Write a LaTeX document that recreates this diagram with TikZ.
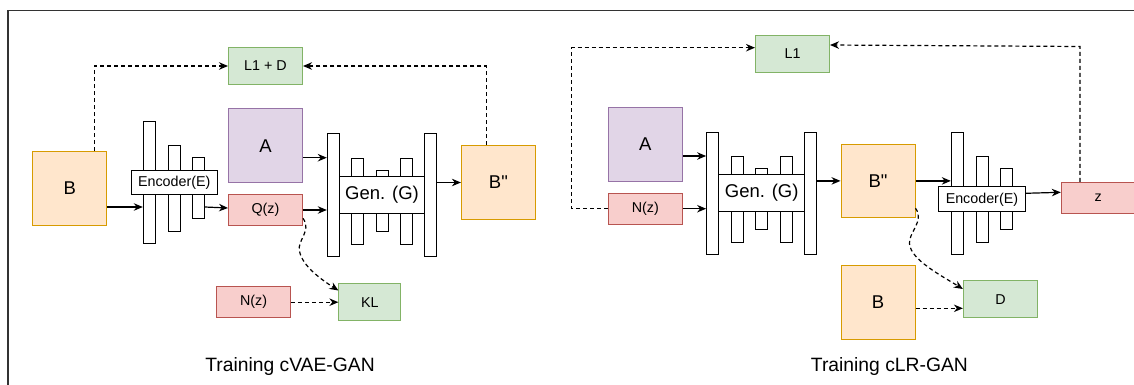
\documentclass[tikz,border=0pt]{standalone}
\usepackage{fontspec}
\setmainfont{Liberation Sans}[Ligatures=TeXOff]
\usetikzlibrary{arrows.meta}

\definecolor{orfill}{HTML}{FFE6CC}
\definecolor{ordraw}{HTML}{D79B00}
\definecolor{pufill}{HTML}{E1D5E7}
\definecolor{pudraw}{HTML}{9673A6}
\definecolor{refill}{HTML}{F8CECC}
\definecolor{redraw}{HTML}{B85450}
\definecolor{grfill}{HTML}{D5E8D4}
\definecolor{grdraw}{HTML}{82B366}

\newcommand{\boxtext}{\fontsize{14.3}{17}\selectfont}
\newcommand{\imgtext}{\fontsize{18.5}{22}\selectfont}
\newcommand{\titletext}{\fontsize{19.3}{23}\selectfont}

\begin{document}
\begin{tikzpicture}[
		x=1pt, y=-1pt,
		box/.style={draw, line width=1pt, inner sep=0pt, minimum width=74pt, font=\boxtext},
		imgbox/.style={box, minimum height=73.6pt, font=\imgtext},
		lossbox/.style={box, fill=grfill, draw=grdraw, minimum height=37pt},
		latbox/.style={box, fill=refill, draw=redraw, minimum height=31pt},
		bar/.style={draw, fill=white, line width=1pt, inner sep=0pt, minimum width=12pt},
		tallbar/.style={bar, minimum height=122.5pt},
		midbar/.style={bar, minimum height=86pt},
		lowbar/.style={bar, minimum height=61.3pt},
		netbox/.style={draw, fill=white, line width=1pt, inner sep=0pt},
		arr/.style={-{Stealth[length=9pt,width=7.5pt]}, line width=1.2pt},
		dasharr/.style={arr, dash pattern=on 4pt off 3pt}
	]
	\useasboundingbox (0,0) rectangle (1134,385);
	\draw[line width=1.2pt, black!80] (8,400) -- (8,10.7) -- (1150,10.7);

	% cVAE-GAN
	\node[imgbox, fill=orfill, draw=ordraw] (B) at (69.7,188.5) {B};
	\node[lossbox, minimum height=36.6pt] (LD) at (265.5,66) {L1 + D};
	\node[imgbox, fill=pufill, draw=pudraw] (A) at (265.5,145.7) {A};
	\node[latbox, minimum height=30.6pt] (Q) at (265.5,210) {Q(z)};
	\node[latbox, minimum width=73.6pt] (N) at (253.6,302.2) {N(z)};
	\node[lossbox, minimum width=61.8pt] (KL) at (369.8,302.2) {KL};
	\node[imgbox, fill=orfill, draw=ordraw] (Bpp) at (498.4,182.5) {B"};

	\node[tallbar] (ea1) at (149.3,182.7) {};
	\node[midbar] (ea2) at (174,188.3) {};
	\node[lowbar] (ea3) at (198.3,188.3) {};
	\node[netbox, minimum width=86.3pt, minimum height=24.2pt, font=\boxtext] (ea) at (174.2,182.4) {Encoder(E)};

	\node[tallbar] (ga1) at (333.3,194.8) {};
	\node[midbar] (ga2) at (357.8,201) {};
	\node[lowbar] (ga3) at (382,200.8) {};
	\node[midbar] (ga4) at (406.5,201) {};
	\node[tallbar] (ga5) at (430.9,194.8) {};
	\node[netbox, minimum width=85.3pt, minimum height=37.1pt, font=\imgtext] (ga) at (382,194.8) {Gen. (G)};

	\draw[arr] (B.east |- 0,207) -- (ea1.west |- 0,207);
	\draw[arr] (ea3.east |- 0,207) -- (Q.west |- 0,208);
	\draw[arr] (A.east |- 0,157.7) -- (ga1.west |- 0,157.7);
	\draw[arr] (Q.east) -- (ga1.west |- Q.east);
	\draw[arr] (ga5.east |- Bpp.west) -- (Bpp.west);
	\draw[dasharr] (94.3,0 |- B.north) |- (LD.west);
	\draw[dasharr] (486.1,0 |- Bpp.north) |- (LD.east);
	\draw[dasharr] (Q.east |- 0,218.3) .. controls (312,231) and (297,240) .. (299.5,251)
		.. controls (302,266) and (322,280) .. (KL.west |- 0,290.5);
	\draw[dasharr] (N.east) -- (KL.west |- N.east);

	\node[font=\titletext] (t1) at (290,366.7) {Training cVAE-GAN};

	% cLR-GAN
	\node[lossbox, minimum height=37.3pt] (L) at (792.5,53.7) {L1};
	\node[imgbox, fill=pufill, draw=pudraw] (A2) at (645.3,144.2) {A};
	\node[latbox, minimum height=31.3pt] (N2) at (645.3,208.7) {N(z)};
	\node[imgbox, fill=orfill, draw=ordraw] (B2pp) at (878,180.9) {B"};
	\node[imgbox, fill=orfill, draw=ordraw] (B2) at (878,302.5) {B};
	\node[lossbox] (D) at (1000.4,299.2) {D};
	\node[latbox] (z) at (1098.3,197.8) {z};

	\node[tallbar] (gb1) at (712.6,193.3) {};
	\node[midbar] (gb2) at (737,199) {};
	\node[lowbar] (gb3) at (761.7,199.3) {};
	\node[midbar] (gb4) at (786.2,199) {};
	\node[tallbar] (gb5) at (810.7,193.3) {};
	\node[netbox, minimum width=86pt, minimum height=36.7pt, font=\imgtext] (gb) at (761.7,192.7) {Gen. (G)};

	\node[tallbar] (eb1) at (957.3,193.3) {};
	\node[midbar] (eb2) at (982.2,199) {};
	\node[lowbar] (eb3) at (1006.3,199.3) {};
	\node[netbox, minimum width=86.3pt, minimum height=24.7pt, font=\boxtext] (eb) at (981.9,199.3) {Encoder(E)};

	\draw[arr] (A2.east |- 0,156) -- (gb1.west |- 0,156);
	\draw[arr] (N2.east) -- (gb1.west |- N2.east);
	\draw[arr] (gb5.east |- B2pp.west) -- (B2pp.west);
	\draw[arr] (B2pp.east) -- (eb1.west |- B2pp.east);
	\draw[arr] (eb.east |- 0,193.3) -- (z.west |- 0,192.3);
	\draw[dasharr] (N2.west) -| (571.7,47.7) -- (L.west |- 0,47.7);
	\draw[dasharr] (1080,0 |- z.north) -- (1080,46.5) -- (L.east |- 0,45);
	\draw[dasharr] (B2pp.east |- 0,208.3) .. controls (925,221) and (908,233) .. (909.5,244)
		.. controls (911,260) and (942,276) .. (D.west |- 0,289);
	\draw[dasharr] (B2.east |- 0,308.3) -- (D.west |- 0,308.3);

	\node[font=\titletext] (t2) at (889.4,366.7) {Training cLR-GAN};
\end{tikzpicture}
\end{document}
